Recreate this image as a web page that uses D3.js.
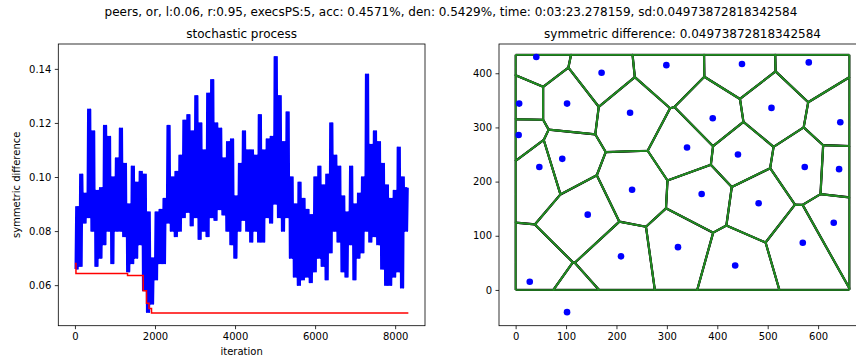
<!DOCTYPE html>
<html>
<head>
<meta charset="utf-8">
<script src="https://cdn.jsdelivr.net/npm/d3@7"></script>
<style>
  html, body { margin: 0; padding: 0; background: #fff; }
  svg { display: block; font-family: "DejaVu Sans", sans-serif; }
</style>
</head>
<body>
<svg id="fig" width="856" height="364"></svg>
<script>
// ---- run header ----
const suptitle = "peers, or, l:0.06, r:0.95, execsPS:5, acc: 0.4571%, den: 0.5429%, time: 0:03:23.278159, sd:0.04973872818342584";
const leftTitle = "stochastic process";
const rightTitle = "symmetric difference: 0.04973872818342584";

// ---- stochastic process: per-100-iteration high / low of the symmetric difference ----
const totalIterations = 8330;
const processHigh = [
  0.089, 0.101, 0.094, 0.125, 0.117, 0.095, 0.096, 0.119, 0.115, 0.100,
  0.107, 0.118, 0.105, 0.090, 0.104, 0.098, 0.102, 0.101, 0.087, 0.070,
  0.087, 0.088, 0.092, 0.119, 0.100, 0.102, 0.108, 0.121, 0.123, 0.117,
  0.130, 0.120, 0.110, 0.131, 0.136, 0.120, 0.118, 0.107, 0.113, 0.114,
  0.093, 0.105, 0.117, 0.110, 0.110, 0.108, 0.123, 0.110, 0.114, 0.115,
  0.1445, 0.130, 0.113, 0.124, 0.100, 0.090, 0.098, 0.092, 0.088, 0.086,
  0.100, 0.104, 0.097, 0.101, 0.120, 0.108, 0.104, 0.093, 0.087, 0.104,
  0.090, 0.094, 0.100, 0.138, 0.112, 0.117, 0.113, 0.105, 0.097, 0.092,
  0.095, 0.111, 0.100, 0.096
];
const processLow = [
  0.066, 0.067, 0.083, 0.085, 0.080, 0.067, 0.070, 0.075, 0.080, 0.068,
  0.080, 0.080, 0.078, 0.065, 0.068, 0.070, 0.075, 0.058, 0.050, 0.053,
  0.062, 0.068, 0.068, 0.083, 0.080, 0.078, 0.080, 0.085, 0.087, 0.082,
  0.085, 0.077, 0.080, 0.078, 0.085, 0.084, 0.088, 0.086, 0.080, 0.075,
  0.070, 0.080, 0.084, 0.080, 0.076, 0.080, 0.076, 0.076, 0.085, 0.083,
  0.090, 0.085, 0.080, 0.085, 0.070, 0.063, 0.060, 0.062, 0.063, 0.061,
  0.065, 0.070, 0.067, 0.062, 0.072, 0.080, 0.076, 0.065, 0.063, 0.075,
  0.062, 0.070, 0.072, 0.080, 0.076, 0.078, 0.075, 0.066, 0.060, 0.060,
  0.063, 0.065, 0.059, 0.080
];
// best value found so far (step changes)
const bestIter  = [0,     25,     1314,   1705,   1788,   1850,   1913,    8330];
const bestValue = [0.068, 0.0643, 0.0636, 0.0579, 0.0533, 0.0514, 0.04974, 0.04974];

const leftXTicks = [0, 2000, 4000, 6000, 8000];
const leftYTicks = [0.06, 0.08, 0.10, 0.12, 0.14];
const leftXDomain = [-416, 8746];
const leftYDomain = [0.0450, 0.1492];

// ---- sites of the diagram ----
const siteX = [41, 170.5, 299, 449, 581.5, 7, 102, 227, 391, 507.5, 644, 6, 340, 441, 92.5,
               47, 573.5, 641.6, 231, 369, 482, 143, 631, 569.6, 322, 209, 435.5, 28, 102];
const siteY = [430, 401, 415, 417, 420, 344, 344, 327, 317, 336, 309.5, 286, 263, 250, 242,
               227, 227, 223, 185, 177, 160, 139, 124, 87, 79, 62, 45, 15, -41];
const regionBounds = [0, 0, 662, 434];
const rightXTicks = [0, 100, 200, 300, 400, 500, 600];
const rightYTicks = [0, 100, 200, 300, 400];
const rightXDomain = [-33, 695];
const rightYDomain = [-66, 454];

// ---- layout ----
const svg = d3.select("#fig");
const plotTop = 44, plotBottom = 325.7;
const leftPanel  = { x0: 58.3, x1: 425 };
const rightPanel = { x0: 499,  x1: 866 };

svg.append("text").attr("x", 451).attr("y", 16).attr("text-anchor", "middle")
  .attr("font-size", 12).attr("fill", "#000").text(suptitle);

function frame(panel, title) {
  svg.append("text").attr("x", (panel.x0 + panel.x1) / 2).attr("y", 38)
    .attr("text-anchor", "middle").attr("font-size", 12).attr("fill", "#000").text(title);
}

function axes(panel, x, y, xTicks, yTicks, fmtX, fmtY) {
  const gx = svg.append("g").attr("transform", `translate(0,${plotBottom})`)
    .call(d3.axisBottom(x).tickValues(xTicks).tickSize(3.5).tickPadding(3.5).tickFormat(fmtX));
  const gy = svg.append("g").attr("transform", `translate(${panel.x0},0)`)
    .call(d3.axisLeft(y).tickValues(yTicks).tickSize(3.5).tickPadding(3.5).tickFormat(fmtY));
  [gx, gy].forEach(g => {
    g.select(".domain").remove();
    g.selectAll("text").attr("font-size", 10).attr("fill", "#000")
      .attr("font-family", "DejaVu Sans, sans-serif");
    g.selectAll("line").attr("stroke", "#000").attr("stroke-width", 0.8);
  });
  svg.append("rect").attr("x", panel.x0).attr("y", plotTop)
    .attr("width", panel.x1 - panel.x0).attr("height", plotBottom - plotTop)
    .attr("fill", "none").attr("stroke", "#000").attr("stroke-width", 0.8);
}

// ---- left panel ----
frame(leftPanel, leftTitle);
const xL = d3.scaleLinear().domain(leftXDomain).range([leftPanel.x0, leftPanel.x1]);
const yL = d3.scaleLinear().domain(leftYDomain).range([plotBottom, plotTop]);

// the process swings between its low and high within every 100-iteration window
const binWidth = totalIterations / processHigh.length;
const swingsPerBin = 3;
const processPoints = [];
processHigh.forEach((hi, i) => {
  for (let k = 0; k < swingsPerBin; k++) {
    const base = i * binWidth + (k / swingsPerBin) * binWidth;
    processPoints.push([base + binWidth / (swingsPerBin * 4), processLow[i]]);
    processPoints.push([base + 3 * binWidth / (swingsPerBin * 4), hi]);
  }
});

svg.append("clipPath").attr("id", "clipL").append("rect")
  .attr("x", leftPanel.x0).attr("y", plotTop)
  .attr("width", leftPanel.x1 - leftPanel.x0).attr("height", plotBottom - plotTop);

svg.append("path").datum(processPoints)
  .attr("clip-path", "url(#clipL)")
  .attr("fill", "none").attr("stroke", "#0000ff").attr("stroke-width", 1.6)
  .attr("stroke-linejoin", "round")
  .attr("d", d3.line().x(d => xL(d[0])).y(d => yL(d[1])));

svg.append("path").datum(bestIter.map((it, i) => [it, bestValue[i]]))
  .attr("fill", "none").attr("stroke", "#ff0000").attr("stroke-width", 1.5)
  .attr("d", d3.line().curve(d3.curveStepAfter).x(d => xL(d[0])).y(d => yL(d[1])));

axes(leftPanel, xL, yL, leftXTicks, leftYTicks, d3.format("d"), d3.format(".2f"));

svg.append("text").attr("x", (leftPanel.x0 + leftPanel.x1) / 2).attr("y", 355)
  .attr("text-anchor", "middle").attr("font-size", 10).attr("fill", "#000").text("iteration");
svg.append("text").attr("transform", `translate(20,${(plotTop + plotBottom) / 2}) rotate(-90)`)
  .attr("text-anchor", "middle").attr("font-size", 10).attr("fill", "#000")
  .text("symmetric difference");

// ---- right panel ----
frame(rightPanel, rightTitle);
const xR = d3.scaleLinear().domain(rightXDomain).range([rightPanel.x0, rightPanel.x1]);
const yR = d3.scaleLinear().domain(rightYDomain).range([plotBottom, plotTop]);

const sites = siteX.map((x, i) => [x, siteY[i]]);
const voronoi = d3.Delaunay.from(sites).voronoi(regionBounds);

// cell polygons mapped into pixel space through the scales
const cellPath = d3.line().x(d => xR(d[0])).y(d => yR(d[1]));
const cells = sites.map((_, i) => voronoi.cellPolygon(i)).filter(Boolean);

const gv = svg.append("g");
gv.selectAll("path.ref").data(cells).join("path").attr("class", "ref")
  .attr("d", cellPath).attr("fill", "none").attr("stroke", "#111")
  .attr("stroke-width", 2.2).attr("stroke-linejoin", "round");
gv.selectAll("path.est").data(cells).join("path").attr("class", "est")
  .attr("d", cellPath).attr("fill", "none").attr("stroke", "#228b22")
  .attr("stroke-width", 1.6).attr("stroke-linejoin", "round");

svg.append("g").selectAll("circle").data(sites).join("circle")
  .attr("cx", d => xR(d[0])).attr("cy", d => yR(d[1])).attr("r", 3.3)
  .attr("fill", "#0000ff");

axes(rightPanel, xR, yR, rightXTicks, rightYTicks, d3.format("d"), d3.format("d"));
</script>
</body>
</html>
